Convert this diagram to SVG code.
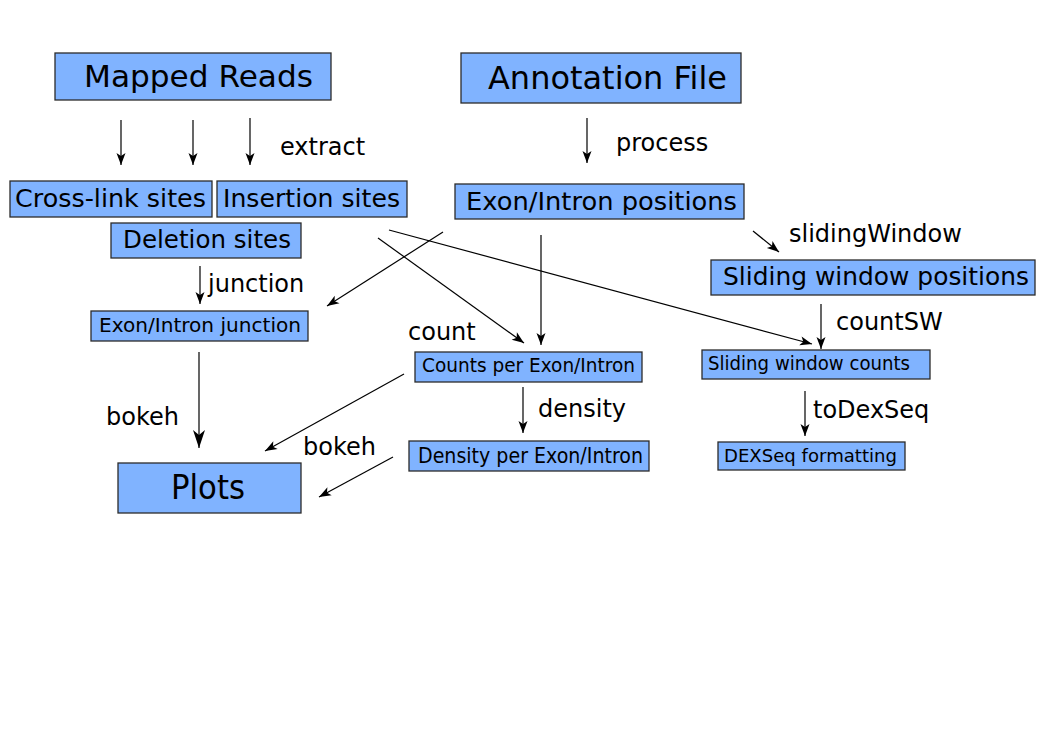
<svg xmlns="http://www.w3.org/2000/svg" width="1053" height="745" viewBox="0 0 1053 745">
<style>
.box{fill:#80b3ff;stroke:#2b2b2b;stroke-width:1.3}
text{font-family:"DejaVu Sans","Liberation Sans",sans-serif;fill:#000}
.n text{}
.lbl{font-size:24px}
.con line{stroke:#000;stroke-width:1.2;marker-end:url(#ah)}
</style>
<defs>
<marker id="ah" markerUnits="userSpaceOnUse" viewBox="-13 -6 14 12" markerWidth="14" markerHeight="12" refX="0" refY="0" orient="auto">
<path d="M0,0 L-12,-4.5 L-9,0 L-12,4.5 Z" fill="#000"/>
</marker>
<marker id="ahb" markerUnits="userSpaceOnUse" viewBox="-19 -7 20 14" markerWidth="20" markerHeight="14" refX="0" refY="0" orient="auto">
<path d="M0,0 L-18,-6 L-13,0 L-18,6 Z" fill="#000"/>
</marker>
</defs>
<rect width="1053" height="745" fill="#fff"/>

<g id="mapped-reads"><rect class="box" x="55" y="53" width="276" height="47"/><text x="84" y="87" font-size="31" textLength="229" lengthAdjust="spacingAndGlyphs">Mapped Reads</text></g>
<g id="annotation-file"><rect class="box" x="461" y="53" width="280" height="50"/><text x="488" y="89" font-size="32" textLength="239" lengthAdjust="spacingAndGlyphs">Annotation File</text></g>
<g id="cross-link"><rect class="box" x="10" y="181" width="202" height="36"/><text x="15" y="207" font-size="25" textLength="191" lengthAdjust="spacingAndGlyphs">Cross-link sites</text></g>
<g id="insertion"><rect class="box" x="217" y="181" width="190" height="36"/><text x="223" y="207" font-size="25" textLength="177" lengthAdjust="spacingAndGlyphs">Insertion sites</text></g>
<g id="deletion"><rect class="box" x="111" y="223" width="190" height="35"/><text x="123" y="248" font-size="25" textLength="168" lengthAdjust="spacingAndGlyphs">Deletion sites</text></g>
<g id="exon-intron-positions"><rect class="box" x="455" y="184" width="289" height="35"/><text x="466" y="210" font-size="25" textLength="271" lengthAdjust="spacingAndGlyphs">Exon/Intron positions</text></g>
<g id="sliding-window-positions"><rect class="box" x="711" y="260" width="324" height="35"/><text x="723" y="285" font-size="25" textLength="306" lengthAdjust="spacingAndGlyphs">Sliding window positions</text></g>
<g id="exon-intron-junction"><rect class="box" x="91" y="311" width="217" height="30"/><text x="99" y="332" font-size="20" textLength="202" lengthAdjust="spacingAndGlyphs">Exon/Intron junction</text></g>
<g id="counts"><rect class="box" x="415" y="352" width="227" height="30"/><text x="422" y="372" font-size="19.2" textLength="213" lengthAdjust="spacingAndGlyphs">Counts per Exon/Intron</text></g>
<g id="sliding-window-counts"><rect class="box" x="702" y="350" width="228" height="29"/><text x="708" y="370" font-size="19" textLength="202" lengthAdjust="spacingAndGlyphs">Sliding window counts</text></g>
<g id="density"><rect class="box" x="409" y="441" width="240" height="30"/><text x="418" y="463" font-size="20.5" textLength="225" lengthAdjust="spacingAndGlyphs">Density per Exon/Intron</text></g>
<g id="dexseq"><rect class="box" x="718" y="442" width="187" height="28"/><text x="724" y="462" font-size="18.3" textLength="173" lengthAdjust="spacingAndGlyphs">DEXSeq formatting</text></g>
<g id="plots"><rect class="box" x="118" y="463" width="183" height="50"/><text x="171" y="499" font-size="34" textLength="74" lengthAdjust="spacingAndGlyphs">Plots</text></g>

<g id="connectors" class="con">
<line x1="121" y1="120" x2="121" y2="165"/>
<line x1="193" y1="120" x2="193" y2="165"/>
<line x1="250" y1="118" x2="250" y2="165"/>
<line x1="587" y1="118" x2="587" y2="163"/>
<line x1="753" y1="231" x2="779" y2="252"/>
<line x1="200" y1="266" x2="200" y2="304"/>
<line x1="443" y1="232" x2="327" y2="306"/>
<line x1="378" y1="238" x2="524" y2="343"/>
<line x1="541" y1="235" x2="541" y2="345"/>
<line x1="389" y1="230" x2="812" y2="344"/>
<line x1="821" y1="304" x2="821" y2="349"/>
<line x1="199" y1="352" x2="199" y2="448" style="marker-end:url(#ahb)"/>
<line x1="404" y1="374" x2="265" y2="451"/>
<line x1="523" y1="387" x2="523" y2="433"/>
<line x1="393" y1="457" x2="319" y2="497"/>
<line x1="805" y1="391" x2="805" y2="436"/>
</g>

<g id="labels" class="lbl">
<text x="280" y="155">extract</text>
<text x="616" y="151">process</text>
<text x="789" y="242">slidingWindow</text>
<text x="208" y="292">junction</text>
<text x="408" y="340">count</text>
<text x="836" y="330">countSW</text>
<text x="106" y="425">bokeh</text>
<text x="538" y="417">density</text>
<text x="303" y="455">bokeh</text>
<text x="813" y="418">toDexSeq</text>
</g>
</svg>
